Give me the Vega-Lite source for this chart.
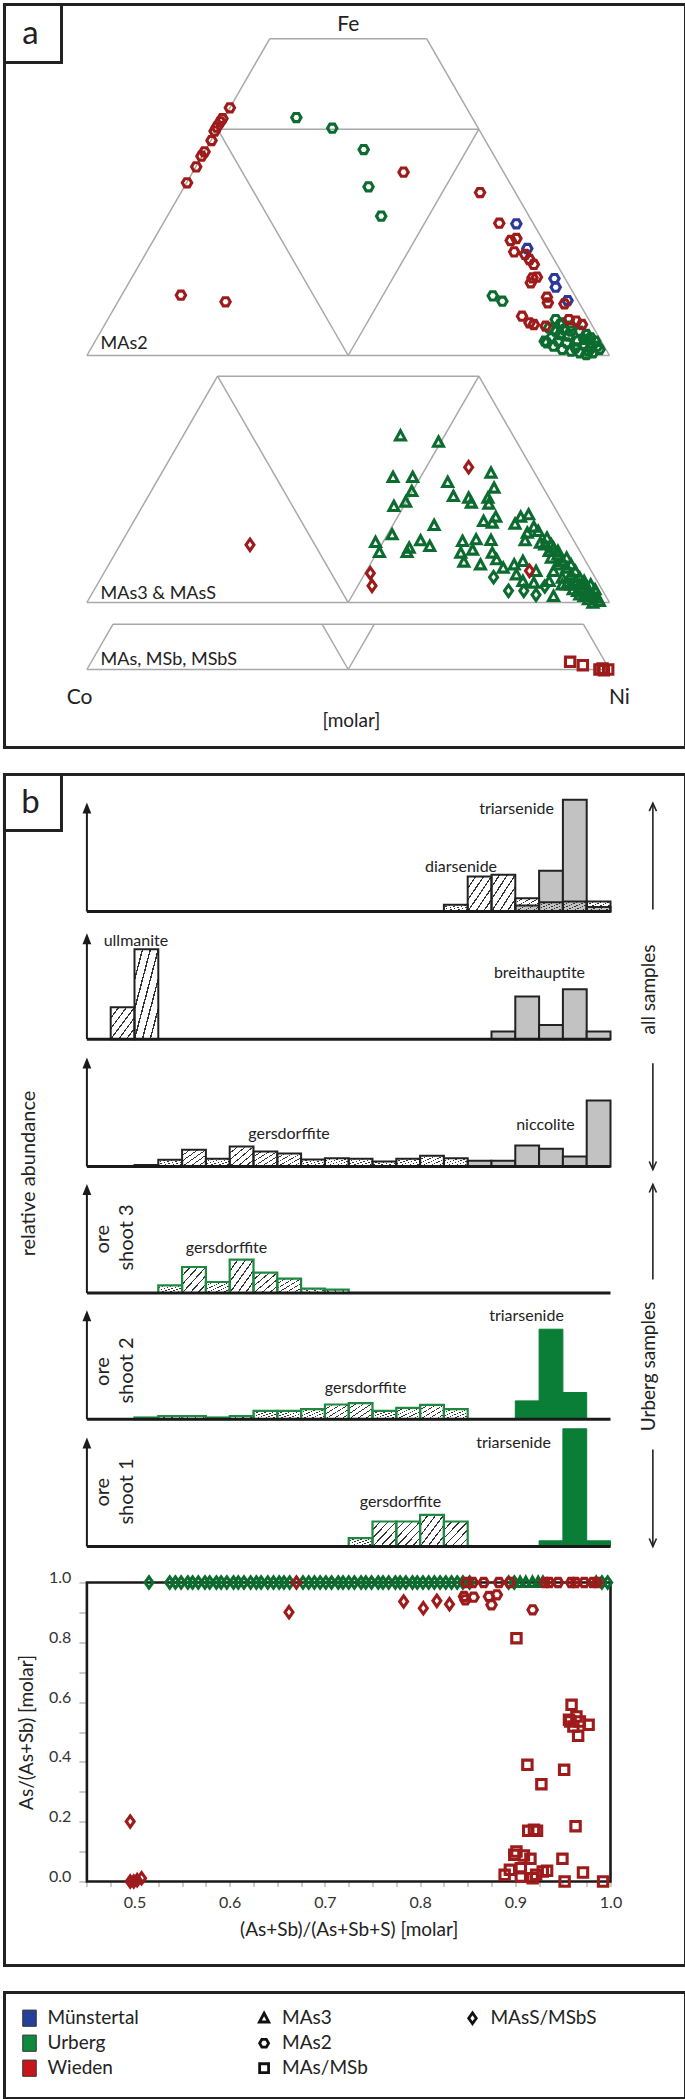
{
"$schema": "https://vega.github.io/schema/vega-lite/v6.json",
"background": "white",
"padding": {"left": 0.5, "top": 1.5, "right": 0.5, "bottom": 0.5},
"spacing": 27,
"bounds": "flush",
"config": {"font": "Lato", "view": {"stroke": null}, "axis": {"grid": false}},
"vconcat": [
{
 "width": 681, "height": 743,
 "view": {"stroke": "#222", "strokeWidth": 3},
 "encoding": {"x": {"field": "x", "type": "quantitative", "scale": {"domain": [0, 1], "range": [82.4, 605], "nice": false, "zero": false}, "axis": null}},
 "resolve": {"scale": {"y": "independent"}},
 "layer": [
  {
   "encoding": {"y": {"field": "y", "type": "quantitative", "scale": {"domain": [0, 1], "range": [351, -101.6], "nice": false, "zero": false}, "axis": null}},
   "layer": [
    {"data": {"values": [{"x":0,"y":0,"x2":1,"y2":0},{"x":0,"y":0,"x2":0.35,"y2":0.7},{"x":1,"y":0,"x2":0.65,"y2":0.7},{"x":0.35,"y":0.7,"x2":0.65,"y2":0.7},{"x":0.25,"y":0.5,"x2":0.75,"y2":0.5},{"x":0.25,"y":0.5,"x2":0.5,"y2":0},{"x":0.5,"y":0,"x2":0.75,"y2":0.5}]},
     "mark": {"type": "rule", "stroke": "#a8a8a8", "strokeWidth": 1.5},
     "encoding": {"x2": {"field": "x2"}, "y2": {"field": "y2"}}},
    {"data": {"values": [{"x":-0.1577,"x2":-0.0486,"y":0.7755,"y2":0.6474}]},
     "mark": {"type": "rect", "fillOpacity": 0, "stroke": "#222", "strokeWidth": 3},
     "encoding": {"x2": {"field": "x2"}, "y2": {"field": "y2"}}},
    {"data": {"values": [
      {"x":0.8971,"y":0.0795,"site":"Urberg","mineral":"MAs2"},{"x":0.9096,"y":0.0722,"site":"Urberg","mineral":"MAs2"},{"x":0.9264,"y":0.0648,"site":"Urberg","mineral":"MAs2"},{"x":0.9431,"y":0.0538,"site":"Urberg","mineral":"MAs2"},{"x":0.9556,"y":0.0464,"site":"Urberg","mineral":"MAs2"},{"x":0.964,"y":0.039,"site":"Urberg","mineral":"MAs2"},{"x":0.9724,"y":0.0317,"site":"Urberg","mineral":"MAs2"},{"x":0.9766,"y":0.0206,"site":"Urberg","mineral":"MAs2"},{"x":0.9808,"y":0.0133,"site":"Urberg","mineral":"MAs2"},{"x":0.9598,"y":0.0096,"site":"Urberg","mineral":"MAs2"},{"x":0.9431,"y":0.0059,"site":"Urberg","mineral":"MAs2"},{"x":0.9264,"y":0.0096,"site":"Urberg","mineral":"MAs2"},{"x":0.9096,"y":0.0133,"site":"Urberg","mineral":"MAs2"},{"x":0.8929,"y":0.0206,"site":"Urberg","mineral":"MAs2"},{"x":0.8803,"y":0.028,"site":"Urberg","mineral":"MAs2"},{"x":0.8762,"y":0.0317,"site":"Urberg","mineral":"MAs2"},{"x":0.8887,"y":0.039,"site":"Urberg","mineral":"MAs2"},{"x":0.9054,"y":0.0464,"site":"Urberg","mineral":"MAs2"},{"x":0.9222,"y":0.0427,"site":"Urberg","mineral":"MAs2"},{"x":0.9389,"y":0.0317,"site":"Urberg","mineral":"MAs2"},{"x":0.9515,"y":0.0243,"site":"Urberg","mineral":"MAs2"},{"x":0.964,"y":0.0169,"site":"Urberg","mineral":"MAs2"},{"x":0.9682,"y":0.0059,"site":"Urberg","mineral":"MAs2"},{"x":0.9556,"y":0.0022,"site":"Urberg","mineral":"MAs2"},{"x":0.9347,"y":0.0169,"site":"Urberg","mineral":"MAs2"},{"x":0.918,"y":0.028,"site":"Urberg","mineral":"MAs2"},{"x":0.9013,"y":0.0317,"site":"Urberg","mineral":"MAs2"},{"x":0.9264,"y":0.0538,"site":"Urberg","mineral":"MAs2"},{"x":0.9138,"y":0.0574,"site":"Urberg","mineral":"MAs2"},{"x":0.9515,"y":0.0354,"site":"Urberg","mineral":"MAs2"},{"x":0.8971,"y":0.0538,"site":"Urberg","mineral":"MAs2"},{"x":0.8845,"y":0.0611,"site":"Urberg","mineral":"MAs2"},{"x":0.9054,"y":0.0685,"site":"Urberg","mineral":"MAs2"},
      {"x":0.4008,"y":0.5258,"site":"Urberg","mineral":"MAs2"},{"x":0.4695,"y":0.5023,"site":"Urberg","mineral":"MAs2"},{"x":0.5297,"y":0.4551,"site":"Urberg","mineral":"MAs2"},{"x":0.5389,"y":0.3727,"site":"Urberg","mineral":"MAs2"},{"x":0.5632,"y":0.3079,"site":"Urberg","mineral":"MAs2"},{"x":0.7766,"y":0.1318,"site":"Urberg","mineral":"MAs2"},{"x":0.795,"y":0.12,"site":"Urberg","mineral":"MAs2"},
      {"x":0.8218,"y":0.2909,"site":"Münstertal","mineral":"MAs2"},{"x":0.8427,"y":0.2364,"site":"Münstertal","mineral":"MAs2"},{"x":0.8946,"y":0.1701,"site":"Münstertal","mineral":"MAs2"},{"x":0.8971,"y":0.151,"site":"Münstertal","mineral":"MAs2"},{"x":0.9197,"y":0.1215,"site":"Münstertal","mineral":"MAs2"},
      {"x":0.2736,"y":0.5472,"site":"Wieden","mineral":"MAs2"},{"x":0.2594,"y":0.5236,"site":"Wieden","mineral":"MAs2"},{"x":0.2552,"y":0.5163,"site":"Wieden","mineral":"MAs2"},{"x":0.2485,"y":0.5045,"site":"Wieden","mineral":"MAs2"},{"x":0.2444,"y":0.4957,"site":"Wieden","mineral":"MAs2"},{"x":0.2385,"y":0.475,"site":"Wieden","mineral":"MAs2"},{"x":0.2251,"y":0.45,"site":"Wieden","mineral":"MAs2"},{"x":0.2192,"y":0.4404,"site":"Wieden","mineral":"MAs2"},{"x":0.2092,"y":0.4168,"site":"Wieden","mineral":"MAs2"},{"x":0.1916,"y":0.3815,"site":"Wieden","mineral":"MAs2"},{"x":0.1799,"y":0.1333,"site":"Wieden","mineral":"MAs2"},{"x":0.2653,"y":0.1186,"site":"Wieden","mineral":"MAs2"},{"x":0.6059,"y":0.4051,"site":"Wieden","mineral":"MAs2"},{"x":0.7523,"y":0.3601,"site":"Wieden","mineral":"MAs2"},{"x":0.7891,"y":0.2924,"site":"Wieden","mineral":"MAs2"},{"x":0.8109,"y":0.2541,"site":"Wieden","mineral":"MAs2"},{"x":0.8218,"y":0.2585,"site":"Wieden","mineral":"MAs2"},{"x":0.8176,"y":0.229,"site":"Wieden","mineral":"MAs2"},{"x":0.8385,"y":0.2232,"site":"Wieden","mineral":"MAs2"},{"x":0.8469,"y":0.2121,"site":"Wieden","mineral":"MAs2"},{"x":0.8552,"y":0.2011,"site":"Wieden","mineral":"MAs2"},{"x":0.8527,"y":0.1716,"site":"Wieden","mineral":"MAs2"},{"x":0.8611,"y":0.1731,"site":"Wieden","mineral":"MAs2"},{"x":0.8494,"y":0.1606,"site":"Wieden","mineral":"MAs2"},{"x":0.8803,"y":0.1289,"site":"Wieden","mineral":"MAs2"},{"x":0.882,"y":0.1164,"site":"Wieden","mineral":"MAs2"},{"x":0.9138,"y":0.1142,"site":"Wieden","mineral":"MAs2"},{"x":0.8326,"y":0.0869,"site":"Wieden","mineral":"MAs2"},{"x":0.8469,"y":0.0722,"site":"Wieden","mineral":"MAs2"},{"x":0.8552,"y":0.0685,"site":"Wieden","mineral":"MAs2"},{"x":0.8778,"y":0.0648,"site":"Wieden","mineral":"MAs2"},{"x":0.9222,"y":0.0795,"site":"Wieden","mineral":"MAs2"},{"x":0.9364,"y":0.0759,"site":"Wieden","mineral":"MAs2"},{"x":0.9473,"y":0.0685,"site":"Wieden","mineral":"MAs2"}
     ]},
     "mark": {"type": "point", "filled": false, "strokeWidth": 3.1, "size": 88, "opacity": 1},
     "encoding": {
      "color": {"field": "site", "type": "nominal", "scale": {"domain": ["Münstertal", "Urberg", "Wieden"], "range": ["#2b3a9a", "#0c6b2e", "#9e1b1b"]}, "legend": null},
      "shape": {"field": "mineral", "type": "nominal", "scale": {"domain": ["MAs3", "MAs2", "MAs/MSb", "MAsS/MSbS"], "range": ["M0,-1.1L1.05,0.85L-1.05,0.85Z", "M-1,0L-0.5,-0.87L0.5,-0.87L1,0L0.5,0.87L-0.5,0.87Z", "M-1,-1L1,-1L1,1L-1,1Z", "M0,-1.2L0.85,0L0,1.2L-0.85,0Z"]}, "legend": null}}},
    {"data": {"values": [{"x":0.5,"y":0.731,"t":"Fe"}]},
     "mark": {"type": "text", "fontSize": 21, "color": "#222", "align": "center", "baseline": "middle"},
     "encoding": {"text": {"field": "t"}}},
    {"data": {"values": [{"x":-0.1079,"y":0.7114,"t":"a"}]},
     "mark": {"type": "text", "fontSize": 33, "color": "#222", "align": "center", "baseline": "middle"},
     "encoding": {"text": {"field": "t"}}},
    {"data": {"values": [{"x":0.026,"y":0.0133,"t":"MAs2"}]},
     "mark": {"type": "text", "fontSize": 18, "color": "#222", "align": "left", "baseline": "alphabetic"},
     "encoding": {"text": {"field": "t"}}}
   ]
  },
  {
   "encoding": {"y": {"field": "y", "type": "quantitative", "scale": {"domain": [0, 1], "range": [598, 145.4], "nice": false, "zero": false}, "axis": null}},
   "layer": [
    {"data": {"values": [{"x":0,"y":0,"x2":1,"y2":0},{"x":0,"y":0,"x2":0.25,"y2":0.5},{"x":1,"y":0,"x2":0.75,"y2":0.5},{"x":0.25,"y":0.5,"x2":0.75,"y2":0.5},{"x":0.25,"y":0.5,"x2":0.5,"y2":0},{"x":0.5,"y":0,"x2":0.75,"y2":0.5}]},
     "mark": {"type": "rule", "stroke": "#a8a8a8", "strokeWidth": 1.5},
     "encoding": {"x2": {"field": "x2"}, "y2": {"field": "y2"}}},
    {"data": {"values": [
      {"x":0.6,"y":0.3682,"site":"Urberg","mineral":"MAs3"},{"x":0.6728,"y":0.3542,"site":"Urberg","mineral":"MAs3"},{"x":0.5858,"y":0.2762,"site":"Urberg","mineral":"MAs3"},{"x":0.6234,"y":0.2762,"site":"Urberg","mineral":"MAs3"},{"x":0.6218,"y":0.2452,"site":"Urberg","mineral":"MAs3"},{"x":0.6904,"y":0.2651,"site":"Urberg","mineral":"MAs3"},{"x":0.7732,"y":0.2858,"site":"Urberg","mineral":"MAs3"},{"x":0.7791,"y":0.2526,"site":"Urberg","mineral":"MAs3"},{"x":0.7013,"y":0.2342,"site":"Urberg","mineral":"MAs3"},{"x":0.7305,"y":0.2305,"site":"Urberg","mineral":"MAs3"},{"x":0.7356,"y":0.2195,"site":"Urberg","mineral":"MAs3"},{"x":0.7674,"y":0.2305,"site":"Urberg","mineral":"MAs3"},{"x":0.769,"y":0.2173,"site":"Urberg","mineral":"MAs3"},{"x":0.5874,"y":0.2121,"site":"Urberg","mineral":"MAs3"},{"x":0.61,"y":0.2217,"site":"Urberg","mineral":"MAs3"},{"x":0.6644,"y":0.1701,"site":"Urberg","mineral":"MAs3"},{"x":0.5841,"y":0.1495,"site":"Urberg","mineral":"MAs3"},{"x":0.5523,"y":0.1326,"site":"Urberg","mineral":"MAs3"},{"x":0.5598,"y":0.1105,"site":"Urberg","mineral":"MAs3"},{"x":0.6385,"y":0.1363,"site":"Urberg","mineral":"MAs3"},{"x":0.6561,"y":0.1237,"site":"Urberg","mineral":"MAs3"},{"x":0.6167,"y":0.12,"site":"Urberg","mineral":"MAs3"},{"x":0.6126,"y":0.1105,"site":"Urberg","mineral":"MAs3"},{"x":0.7188,"y":0.1348,"site":"Urberg","mineral":"MAs3"},{"x":0.7448,"y":0.1385,"site":"Urberg","mineral":"MAs3"},{"x":0.7732,"y":0.137,"site":"Urberg","mineral":"MAs3"},{"x":0.7155,"y":0.109,"site":"Urberg","mineral":"MAs3"},{"x":0.7381,"y":0.1156,"site":"Urberg","mineral":"MAs3"},{"x":0.7213,"y":0.0891,"site":"Urberg","mineral":"MAs3"},{"x":0.7531,"y":0.0832,"site":"Urberg","mineral":"MAs3"},{"x":0.759,"y":0.179,"site":"Urberg","mineral":"MAs3"},{"x":0.7824,"y":0.1885,"site":"Urberg","mineral":"MAs3"},{"x":0.7757,"y":0.1753,"site":"Urberg","mineral":"MAs3"},{"x":0.8192,"y":0.1731,"site":"Urberg","mineral":"MAs3"},{"x":0.8301,"y":0.1885,"site":"Urberg","mineral":"MAs3"},{"x":0.8452,"y":0.1937,"site":"Urberg","mineral":"MAs3"},{"x":0.8552,"y":0.1664,"site":"Urberg","mineral":"MAs3"},{"x":0.8427,"y":0.1532,"site":"Urberg","mineral":"MAs3"},{"x":0.8636,"y":0.1569,"site":"Urberg","mineral":"MAs3"},{"x":0.8385,"y":0.1363,"site":"Urberg","mineral":"MAs3"},{"x":0.8678,"y":0.1311,"site":"Urberg","mineral":"MAs3"},{"x":0.7757,"y":0.109,"site":"Urberg","mineral":"MAs3"},{"x":0.7841,"y":0.0943,"site":"Urberg","mineral":"MAs3"},{"x":0.7966,"y":0.0759,"site":"Urberg","mineral":"MAs3"},{"x":0.8176,"y":0.0832,"site":"Urberg","mineral":"MAs3"},{"x":0.8343,"y":0.0906,"site":"Urberg","mineral":"MAs3"},{"x":0.8218,"y":0.0611,"site":"Urberg","mineral":"MAs3"},{"x":0.8343,"y":0.0464,"site":"Urberg","mineral":"MAs3"},{"x":0.8552,"y":0.0427,"site":"Urberg","mineral":"MAs3"},{"x":0.8594,"y":0.0685,"site":"Urberg","mineral":"MAs3"},{"x":0.8845,"y":0.1127,"site":"Urberg","mineral":"MAs3"},{"x":0.8887,"y":0.098,"site":"Urberg","mineral":"MAs3"},{"x":0.8929,"y":0.0685,"site":"Urberg","mineral":"MAs3"},{"x":0.8845,"y":0.0464,"site":"Urberg","mineral":"MAs3"},{"x":0.8929,"y":0.0133,"site":"Urberg","mineral":"MAs3"},{"x":0.9096,"y":0.039,"site":"Urberg","mineral":"MAs3"},{"x":0.9013,"y":0.0832,"site":"Urberg","mineral":"MAs3"},{"x":0.8762,"y":0.1274,"site":"Urberg","mineral":"MAs3"},{"x":0.8803,"y":0.1421,"site":"Urberg","mineral":"MAs3"},
      {"x":0.8929,"y":0.12,"site":"Urberg","mineral":"MAs3"},{"x":0.9013,"y":0.1053,"site":"Urberg","mineral":"MAs3"},{"x":0.9096,"y":0.0906,"site":"Urberg","mineral":"MAs3"},{"x":0.918,"y":0.0759,"site":"Urberg","mineral":"MAs3"},{"x":0.9264,"y":0.0611,"site":"Urberg","mineral":"MAs3"},{"x":0.9347,"y":0.0464,"site":"Urberg","mineral":"MAs3"},{"x":0.9431,"y":0.039,"site":"Urberg","mineral":"MAs3"},{"x":0.9515,"y":0.0317,"site":"Urberg","mineral":"MAs3"},{"x":0.9598,"y":0.0243,"site":"Urberg","mineral":"MAs3"},{"x":0.9682,"y":0.0169,"site":"Urberg","mineral":"MAs3"},{"x":0.9766,"y":0.0096,"site":"Urberg","mineral":"MAs3"},{"x":0.9808,"y":0.0022,"site":"Urberg","mineral":"MAs3"},{"x":0.918,"y":0.098,"site":"Urberg","mineral":"MAs3"},{"x":0.9264,"y":0.0832,"site":"Urberg","mineral":"MAs3"},{"x":0.9347,"y":0.0685,"site":"Urberg","mineral":"MAs3"},{"x":0.9431,"y":0.0538,"site":"Urberg","mineral":"MAs3"},{"x":0.9515,"y":0.0464,"site":"Urberg","mineral":"MAs3"},{"x":0.964,"y":0.039,"site":"Urberg","mineral":"MAs3"},{"x":0.9724,"y":0.028,"site":"Urberg","mineral":"MAs3"},{"x":0.9264,"y":0.039,"site":"Urberg","mineral":"MAs3"},{"x":0.9389,"y":0.0243,"site":"Urberg","mineral":"MAs3"},{"x":0.9515,"y":0.0133,"site":"Urberg","mineral":"MAs3"},{"x":0.9598,"y":0.0059,"site":"Urberg","mineral":"MAs3"},{"x":0.9682,"y":-0.0015,"site":"Urberg","mineral":"MAs3"},{"x":0.9096,"y":0.0538,"site":"Urberg","mineral":"MAs3"},{"x":0.918,"y":0.039,"site":"Urberg","mineral":"MAs3"},{"x":0.9305,"y":0.028,"site":"Urberg","mineral":"MAs3"},{"x":0.9431,"y":0.0169,"site":"Urberg","mineral":"MAs3"},{"x":0.9013,"y":0.1127,"site":"Urberg","mineral":"MAs3"},{"x":0.8887,"y":0.1274,"site":"Urberg","mineral":"MAs3"},
      {"x":0.7782,"y":0.056,"site":"Urberg","mineral":"MAsS/MSbS"},{"x":0.8067,"y":0.0258,"site":"Urberg","mineral":"MAsS/MSbS"},{"x":0.836,"y":0.0258,"site":"Urberg","mineral":"MAsS/MSbS"},{"x":0.8594,"y":0.0169,"site":"Urberg","mineral":"MAsS/MSbS"},{"x":0.8762,"y":0.0354,"site":"Urberg","mineral":"MAsS/MSbS"},
      {"x":0.3121,"y":0.1274,"site":"Wieden","mineral":"MAsS/MSbS"},{"x":0.7305,"y":0.299,"site":"Wieden","mineral":"MAsS/MSbS"},{"x":0.5423,"y":0.0648,"site":"Wieden","mineral":"MAsS/MSbS"},{"x":0.5456,"y":0.0368,"site":"Wieden","mineral":"MAsS/MSbS"},{"x":0.8469,"y":0.07,"site":"Wieden","mineral":"MAsS/MSbS"}
     ]},
     "mark": {"type": "point", "filled": false, "strokeWidth": 3.1, "size": 88, "opacity": 1},
     "encoding": {
      "color": {"field": "site", "type": "nominal", "scale": {"domain": ["Münstertal", "Urberg", "Wieden"], "range": ["#2b3a9a", "#0c6b2e", "#9e1b1b"]}, "legend": null},
      "shape": {"field": "mineral", "type": "nominal", "scale": {"domain": ["MAs3", "MAs2", "MAs/MSb", "MAsS/MSbS"], "range": ["M0,-1.1L1.05,0.85L-1.05,0.85Z", "M-1,0L-0.5,-0.87L0.5,-0.87L1,0L0.5,0.87L-0.5,0.87Z", "M-1,-1L1,-1L1,1L-1,1Z", "M0,-1.2L0.85,0L0,1.2L-0.85,0Z"]}, "legend": null}}},
    {"data": {"values": [{"x":0.026,"y":0.0088,"t":"MAs3 & MAsS"}]},
     "mark": {"type": "text", "fontSize": 18, "color": "#222", "align": "left", "baseline": "alphabetic"},
     "encoding": {"text": {"field": "t"}}}
   ]
  },
  {
   "encoding": {"y": {"field": "y", "type": "quantitative", "scale": {"domain": [0, 1], "range": [665, 212.4], "nice": false, "zero": false}, "axis": null}},
   "layer": [
    {"data": {"values": [{"x":0,"y":0,"x2":1,"y2":0},{"x":0,"y":0,"x2":0.05,"y2":0.1},{"x":1,"y":0,"x2":0.95,"y2":0.1},{"x":0.05,"y":0.1,"x2":0.95,"y2":0.1},{"x":0.45,"y":0.1,"x2":0.5,"y2":0},{"x":0.5,"y":0,"x2":0.55,"y2":0.1}]},
     "mark": {"type": "rule", "stroke": "#a8a8a8", "strokeWidth": 1.5},
     "encoding": {"x2": {"field": "x2"}, "y2": {"field": "y2"}}},
    {"data": {"values": [
      {"x":0.9247,"y":0.0169,"site":"Wieden","mineral":"MAs/MSb"},{"x":0.949,"y":0.0096,"site":"Wieden","mineral":"MAs/MSb"},{"x":0.9808,"y":0,"site":"Wieden","mineral":"MAs/MSb"},{"x":0.9891,"y":-0.0015,"site":"Wieden","mineral":"MAs/MSb"},{"x":0.9975,"y":0,"site":"Wieden","mineral":"MAs/MSb"},{"x":0.9866,"y":0.0022,"site":"Wieden","mineral":"MAs/MSb"}
     ]},
     "mark": {"type": "point", "filled": false, "strokeWidth": 3.1, "size": 88, "opacity": 1},
     "encoding": {
      "color": {"field": "site", "type": "nominal", "scale": {"domain": ["Münstertal", "Urberg", "Wieden"], "range": ["#2b3a9a", "#0c6b2e", "#9e1b1b"]}, "legend": null},
      "shape": {"field": "mineral", "type": "nominal", "scale": {"domain": ["MAs3", "MAs2", "MAs/MSb", "MAsS/MSbS"], "range": ["M0,-1.1L1.05,0.85L-1.05,0.85Z", "M-1,0L-0.5,-0.87L0.5,-0.87L1,0L0.5,0.87L-0.5,0.87Z", "M-1,-1L1,-1L1,1L-1,1Z", "M0,-1.2L0.85,0L0,1.2L-0.85,0Z"]}, "legend": null}}},
    {"data": {"values": [{"x":0.026,"y":0.011,"t":"MAs, MSb, MSbS"}]},
     "mark": {"type": "text", "fontSize": 18, "color": "#222", "align": "left", "baseline": "alphabetic"},
     "encoding": {"text": {"field": "t"}}},
    {"data": {"values": [{"x":-0.014,"y":-0.064,"t":"Co"},{"x":1.019,"y":-0.064,"t":"Ni"}]},
     "mark": {"type": "text", "fontSize": 21, "color": "#222", "align": "center", "baseline": "middle"},
     "encoding": {"text": {"field": "t"}}},
    {"data": {"values": [{"x":0.506,"y":-0.1127,"t":"[molar]"}]},
     "mark": {"type": "text", "fontSize": 19, "color": "#222", "align": "center", "baseline": "middle"},
     "encoding": {"text": {"field": "t"}}}
   ]
  }
 ]
},
{
 "width": 681, "height": 1191,
 "view": {"stroke": "#222", "strokeWidth": 3},
 "encoding": {"x": {"field": "x", "type": "quantitative", "scale": {"domain": [0.45, 1.0], "range": [82.4, 606], "nice": false, "zero": false},
   "axis": {"title": "(As+Sb)/(As+Sb+S) [molar]", "orient": "bottom", "offset": -84, "domain": false, "grid": false,
     "values": [0.45,0.475,0.5,0.525,0.55,0.575,0.6,0.625,0.65,0.675,0.7,0.725,0.75,0.775,0.8,0.825,0.85,0.875,0.9,0.925,0.95,0.975,1.0],
     "labelExpr": "abs(datum.value*10 - round(datum.value*10)) < 0.001 && datum.value > 0.46 ? format(datum.value, '.1f') : ''",
     "labelOverlap": false, "labelFlush": false, "tickSize": 5, "tickColor": "#999", "tickWidth": 1, "labelFontSize": 16, "labelColor": "#333", "labelPadding": 8,
     "titleFontSize": 19, "titleFontWeight": "normal", "titleColor": "#222", "titlePadding": 10}}},
 "resolve": {"scale": {"y": "independent"}},
 "layer": [
  {
   "data": {"values": [
    {"x":0.9,"x2":0.925,"y":6,"k":"g"},{"x":0.925,"x2":0.95,"y":40.7,"k":"g"},{"x":0.95,"x2":0.975,"y":111.7,"k":"g"},{"x":0.975,"x2":1.0,"y":4.5,"k":"g"},
    {"x":0.825,"x2":0.85,"y":6.7,"k":"h"},{"x":0.85,"x2":0.875,"y":35,"k":"h"},{"x":0.875,"x2":0.9,"y":36.7,"k":"h"},{"x":0.9,"x2":0.925,"y":13.3,"k":"h"},{"x":0.925,"x2":0.95,"y":9.3,"k":"h"},{"x":0.95,"x2":0.975,"y":10,"k":"h"},{"x":0.975,"x2":1.0,"y":10,"k":"h"}
   ]},
   "encoding": {"y": {"field": "y", "type": "quantitative", "scale": {"domain": [0, 110], "range": [137, 27], "nice": false, "zero": false}, "axis": null}},
   "layer": [
    {"transform": [{"filter": "datum.k == 'g'"}], "mark": {"type": "rect", "fill": "#c2c2c2", "stroke": "#222", "strokeWidth": 2}, "encoding": {"x2": {"field": "x2"}, "y2": {"datum": 0}}},
    {"transform": [{"filter": "datum.k == 'h'"}], "mark": {"type": "rect", "stroke": "#222", "strokeWidth": 2, "fill": {"gradient": "linear", "x1": 0, "y1": 0, "x2": 1, "y2": 1, "stops": [{"offset":0,"color":"rgba(255,255,255,0)"},{"offset":0.155,"color":"rgba(255,255,255,0)"},{"offset":0.155,"color":"#333"},{"offset":0.185,"color":"#333"},{"offset":0.185,"color":"rgba(255,255,255,0)"},{"offset":0.32,"color":"rgba(255,255,255,0)"},{"offset":0.32,"color":"#333"},{"offset":0.35,"color":"#333"},{"offset":0.35,"color":"rgba(255,255,255,0)"},{"offset":0.485,"color":"rgba(255,255,255,0)"},{"offset":0.485,"color":"#333"},{"offset":0.515,"color":"#333"},{"offset":0.515,"color":"rgba(255,255,255,0)"},{"offset":0.65,"color":"rgba(255,255,255,0)"},{"offset":0.65,"color":"#333"},{"offset":0.68,"color":"#333"},{"offset":0.68,"color":"rgba(255,255,255,0)"},{"offset":0.815,"color":"rgba(255,255,255,0)"},{"offset":0.815,"color":"#333"},{"offset":0.845,"color":"#333"},{"offset":0.845,"color":"rgba(255,255,255,0)"},{"offset":1,"color":"rgba(255,255,255,0)"}]}}, "encoding": {"x2": {"field": "x2"}, "y2": {"datum": 0}}},
    {"data": {"values": [{"x":0.45,"x2":1.0,"y":0}]}, "mark": {"type": "rule", "stroke": "#1a1a1a", "strokeWidth": 3}, "encoding": {"x2": {"field": "x2"}}},
    {"data": {"values": [{"x":0.45,"y":0,"y2":100}]}, "mark": {"type": "rule", "stroke": "#1a1a1a", "strokeWidth": 2}, "encoding": {"y2": {"field": "y2"}}},
    {"data": {"values": [{"x":0.45,"y":109}]}, "mark": {"type": "point", "shape": "M0,0L0.4,1L-0.4,1Z", "size": 484, "filled": true, "fill": "#1a1a1a", "strokeWidth": 0, "opacity": 1}},
    {"data": {"values": [{"x":0.9013,"y":102.3,"t":"triarsenide"},{"x":0.843,"y":45,"t":"diarsenide"}]},
     "mark": {"type": "text", "fontSize": 16, "color": "#222", "align": "center", "baseline": "middle"}, "encoding": {"text": {"field": "t"}}},
    {"data": {"values": [{"x":0.3634,"x2":0.4233,"y":137,"y2":81}]}, "mark": {"type": "rect", "fillOpacity": 0, "stroke": "#222", "strokeWidth": 3}, "encoding": {"x2": {"field": "x2"}, "y2": {"field": "y2"}}},
    {"data": {"values": [{"x":0.3908,"y":108.3,"t":"b"}]},
     "mark": {"type": "text", "fontSize": 33, "color": "#222", "align": "center", "baseline": "middle"}, "encoding": {"text": {"field": "t"}}},
    {"data": {"values": [{"x":0.3887,"y":-262,"t":"relative abundance"}]},
     "mark": {"type": "text", "fontSize": 20, "color": "#222", "align": "center", "baseline": "middle", "angle": 270}, "encoding": {"text": {"field": "t"}}},
    {"data": {"values": [{"x":1.0409,"y":-78,"t":"all samples"},{"x":1.0409,"y":-455,"t":"Urberg samples"}]},
     "mark": {"type": "text", "fontSize": 19, "color": "#222", "align": "center", "baseline": "middle", "angle": 270}, "encoding": {"text": {"field": "t"}}},
    {"data": {"values": [{"x":1.0445,"y":108.3,"y2":2},{"x":1.0445,"y":-151.7,"y2":-258},{"x":1.0445,"y":-273,"y2":-368},{"x":1.0445,"y":-538,"y2":-635}]},
     "mark": {"type": "rule", "stroke": "#222", "strokeWidth": 1.6}, "encoding": {"y2": {"field": "y2"}}},
    {"data": {"values": [{"x":1.0445,"y":108.3},{"x":1.0445,"y":-273}]},
     "mark": {"type": "point", "shape": "M-0.45,1L0,0L0.45,1", "size": 256, "filled": false, "stroke": "#222", "strokeWidth": 1.6, "opacity": 1}},
    {"data": {"values": [{"x":1.0445,"y":-258},{"x":1.0445,"y":-635}]},
     "mark": {"type": "point", "shape": "M-0.45,-1L0,0L0.45,-1", "size": 256, "filled": false, "stroke": "#222", "strokeWidth": 1.6, "opacity": 1}}
   ]
  },
  {
   "data": {"values": [
    {"x":0.475,"x2":0.5,"y":32,"k":"h"},{"x":0.5,"x2":0.525,"y":90,"k":"h"},
    {"x":0.875,"x2":0.9,"y":7.7,"k":"g"},{"x":0.9,"x2":0.925,"y":42.7,"k":"g"},{"x":0.925,"x2":0.95,"y":14.3,"k":"g"},{"x":0.95,"x2":0.975,"y":50,"k":"g"},{"x":0.975,"x2":1.0,"y":7.7,"k":"g"}
   ]},
   "encoding": {"y": {"field": "y", "type": "quantitative", "scale": {"domain": [0, 110], "range": [264.7, 154.7], "nice": false, "zero": false}, "axis": null}},
   "layer": [
    {"transform": [{"filter": "datum.k == 'g'"}], "mark": {"type": "rect", "fill": "#c2c2c2", "stroke": "#222", "strokeWidth": 2}, "encoding": {"x2": {"field": "x2"}, "y2": {"datum": 0}}},
    {"transform": [{"filter": "datum.k == 'h'"}], "mark": {"type": "rect", "stroke": "#222", "strokeWidth": 2, "fill": {"gradient": "linear", "x1": 0, "y1": 0, "x2": 1, "y2": 1, "stops": [{"offset":0,"color":"rgba(255,255,255,0)"},{"offset":0.155,"color":"rgba(255,255,255,0)"},{"offset":0.155,"color":"#333"},{"offset":0.185,"color":"#333"},{"offset":0.185,"color":"rgba(255,255,255,0)"},{"offset":0.32,"color":"rgba(255,255,255,0)"},{"offset":0.32,"color":"#333"},{"offset":0.35,"color":"#333"},{"offset":0.35,"color":"rgba(255,255,255,0)"},{"offset":0.485,"color":"rgba(255,255,255,0)"},{"offset":0.485,"color":"#333"},{"offset":0.515,"color":"#333"},{"offset":0.515,"color":"rgba(255,255,255,0)"},{"offset":0.65,"color":"rgba(255,255,255,0)"},{"offset":0.65,"color":"#333"},{"offset":0.68,"color":"#333"},{"offset":0.68,"color":"rgba(255,255,255,0)"},{"offset":0.815,"color":"rgba(255,255,255,0)"},{"offset":0.815,"color":"#333"},{"offset":0.845,"color":"#333"},{"offset":0.845,"color":"rgba(255,255,255,0)"},{"offset":1,"color":"rgba(255,255,255,0)"}]}}, "encoding": {"x2": {"field": "x2"}, "y2": {"datum": 0}}},
    {"data": {"values": [{"x":0.45,"x2":1.0,"y":0}]}, "mark": {"type": "rule", "stroke": "#1a1a1a", "strokeWidth": 3}, "encoding": {"x2": {"field": "x2"}}},
    {"data": {"values": [{"x":0.45,"y":0,"y2":97}]}, "mark": {"type": "rule", "stroke": "#1a1a1a", "strokeWidth": 2}, "encoding": {"y2": {"field": "y2"}}},
    {"data": {"values": [{"x":0.45,"y":106}]}, "mark": {"type": "point", "shape": "M0,0L0.4,1L-0.4,1Z", "size": 484, "filled": true, "fill": "#1a1a1a", "strokeWidth": 0, "opacity": 1}},
    {"data": {"values": [{"x":0.5015,"y":98.7,"t":"ullmanite"},{"x":0.9254,"y":66,"t":"breithauptite"}]},
     "mark": {"type": "text", "fontSize": 16, "color": "#222", "align": "center", "baseline": "middle"}, "encoding": {"text": {"field": "t"}}}
   ]
  },
  {
   "data": {"values": [
    {"x":0.5,"x2":0.525,"y":1.5,"k":"h"},{"x":0.525,"x2":0.55,"y":6.7,"k":"h"},{"x":0.55,"x2":0.575,"y":16.7,"k":"h"},{"x":0.575,"x2":0.6,"y":7.7,"k":"h"},{"x":0.6,"x2":0.625,"y":20,"k":"h"},{"x":0.625,"x2":0.65,"y":15,"k":"h"},{"x":0.65,"x2":0.675,"y":13,"k":"h"},{"x":0.675,"x2":0.7,"y":7,"k":"h"},{"x":0.7,"x2":0.725,"y":8.3,"k":"h"},{"x":0.725,"x2":0.75,"y":7.7,"k":"h"},{"x":0.75,"x2":0.775,"y":5,"k":"h"},{"x":0.775,"x2":0.8,"y":7.7,"k":"h"},{"x":0.8,"x2":0.825,"y":10.7,"k":"h"},{"x":0.825,"x2":0.85,"y":8.3,"k":"h"},
    {"x":0.85,"x2":0.875,"y":5.7,"k":"g"},{"x":0.875,"x2":0.9,"y":5.7,"k":"g"},{"x":0.9,"x2":0.925,"y":21,"k":"g"},{"x":0.925,"x2":0.95,"y":17.7,"k":"g"},{"x":0.95,"x2":0.975,"y":10,"k":"g"},{"x":0.975,"x2":1.0,"y":66,"k":"g"}
   ]},
   "encoding": {"y": {"field": "y", "type": "quantitative", "scale": {"domain": [0, 110], "range": [392, 282], "nice": false, "zero": false}, "axis": null}},
   "layer": [
    {"transform": [{"filter": "datum.k == 'g'"}], "mark": {"type": "rect", "fill": "#c2c2c2", "stroke": "#222", "strokeWidth": 2}, "encoding": {"x2": {"field": "x2"}, "y2": {"datum": 0}}},
    {"transform": [{"filter": "datum.k == 'h'"}], "mark": {"type": "rect", "stroke": "#222", "strokeWidth": 2, "fill": {"gradient": "linear", "x1": 0, "y1": 0, "x2": 1, "y2": 1, "stops": [{"offset":0,"color":"rgba(255,255,255,0)"},{"offset":0.155,"color":"rgba(255,255,255,0)"},{"offset":0.155,"color":"#333"},{"offset":0.185,"color":"#333"},{"offset":0.185,"color":"rgba(255,255,255,0)"},{"offset":0.32,"color":"rgba(255,255,255,0)"},{"offset":0.32,"color":"#333"},{"offset":0.35,"color":"#333"},{"offset":0.35,"color":"rgba(255,255,255,0)"},{"offset":0.485,"color":"rgba(255,255,255,0)"},{"offset":0.485,"color":"#333"},{"offset":0.515,"color":"#333"},{"offset":0.515,"color":"rgba(255,255,255,0)"},{"offset":0.65,"color":"rgba(255,255,255,0)"},{"offset":0.65,"color":"#333"},{"offset":0.68,"color":"#333"},{"offset":0.68,"color":"rgba(255,255,255,0)"},{"offset":0.815,"color":"rgba(255,255,255,0)"},{"offset":0.815,"color":"#333"},{"offset":0.845,"color":"#333"},{"offset":0.845,"color":"rgba(255,255,255,0)"},{"offset":1,"color":"rgba(255,255,255,0)"}]}}, "encoding": {"x2": {"field": "x2"}, "y2": {"datum": 0}}},
    {"data": {"values": [{"x":0.45,"x2":1.0,"y":0}]}, "mark": {"type": "rule", "stroke": "#1a1a1a", "strokeWidth": 3}, "encoding": {"x2": {"field": "x2"}}},
    {"data": {"values": [{"x":0.45,"y":0,"y2":100}]}, "mark": {"type": "rule", "stroke": "#1a1a1a", "strokeWidth": 2}, "encoding": {"y2": {"field": "y2"}}},
    {"data": {"values": [{"x":0.45,"y":109}]}, "mark": {"type": "point", "shape": "M0,0L0.4,1L-0.4,1Z", "size": 484, "filled": true, "fill": "#1a1a1a", "strokeWidth": 0, "opacity": 1}},
    {"data": {"values": [{"x":0.6623,"y":32.3,"t":"gersdorffite"},{"x":0.9317,"y":41.7,"t":"niccolite"}]},
     "mark": {"type": "text", "fontSize": 16, "color": "#222", "align": "center", "baseline": "middle"}, "encoding": {"text": {"field": "t"}}}
   ]
  },
  {
   "data": {"values": [
    {"x":0.525,"x2":0.55,"y":7.7,"k":"gh"},{"x":0.55,"x2":0.575,"y":26,"k":"gh"},{"x":0.575,"x2":0.6,"y":11,"k":"gh"},{"x":0.6,"x2":0.625,"y":33.3,"k":"gh"},{"x":0.625,"x2":0.65,"y":20.3,"k":"gh"},{"x":0.65,"x2":0.675,"y":14.3,"k":"gh"},{"x":0.675,"x2":0.7,"y":4.3,"k":"gh"},{"x":0.7,"x2":0.725,"y":3.3,"k":"gh"}
   ]},
   "encoding": {"y": {"field": "y", "type": "quantitative", "scale": {"domain": [0, 110], "range": [518.5, 408.5], "nice": false, "zero": false}, "axis": null}},
   "layer": [
    {"transform": [{"filter": "datum.k == 'gh'"}], "mark": {"type": "rect", "stroke": "#1e8a40", "strokeWidth": 2.2, "fill": {"gradient": "linear", "x1": 0, "y1": 0, "x2": 1, "y2": 1, "stops": [{"offset":0,"color":"rgba(255,255,255,0)"},{"offset":0.155,"color":"rgba(255,255,255,0)"},{"offset":0.155,"color":"#333"},{"offset":0.185,"color":"#333"},{"offset":0.185,"color":"rgba(255,255,255,0)"},{"offset":0.32,"color":"rgba(255,255,255,0)"},{"offset":0.32,"color":"#333"},{"offset":0.35,"color":"#333"},{"offset":0.35,"color":"rgba(255,255,255,0)"},{"offset":0.485,"color":"rgba(255,255,255,0)"},{"offset":0.485,"color":"#333"},{"offset":0.515,"color":"#333"},{"offset":0.515,"color":"rgba(255,255,255,0)"},{"offset":0.65,"color":"rgba(255,255,255,0)"},{"offset":0.65,"color":"#333"},{"offset":0.68,"color":"#333"},{"offset":0.68,"color":"rgba(255,255,255,0)"},{"offset":0.815,"color":"rgba(255,255,255,0)"},{"offset":0.815,"color":"#333"},{"offset":0.845,"color":"#333"},{"offset":0.845,"color":"rgba(255,255,255,0)"},{"offset":1,"color":"rgba(255,255,255,0)"}]}}, "encoding": {"x2": {"field": "x2"}, "y2": {"datum": 0}}},
    {"data": {"values": [{"x":0.45,"x2":1.0,"y":0}]}, "mark": {"type": "rule", "stroke": "#1a1a1a", "strokeWidth": 3}, "encoding": {"x2": {"field": "x2"}}},
    {"data": {"values": [{"x":0.45,"y":0,"y2":100}]}, "mark": {"type": "rule", "stroke": "#1a1a1a", "strokeWidth": 2}, "encoding": {"y2": {"field": "y2"}}},
    {"data": {"values": [{"x":0.45,"y":109}]}, "mark": {"type": "point", "shape": "M0,0L0.4,1L-0.4,1Z", "size": 484, "filled": true, "fill": "#1a1a1a", "strokeWidth": 0, "opacity": 1}},
    {"data": {"values": [{"x":0.5966,"y":45.5,"t":"gersdorffite"}]},
     "mark": {"type": "text", "fontSize": 16, "color": "#222", "align": "center", "baseline": "middle"}, "encoding": {"text": {"field": "t"}}},
    {"data": {"values": [{"x":0.4664,"y":53.8,"t":"ore"},{"x":0.4923,"y":55.5,"t":"shoot 3"}]},
     "mark": {"type": "text", "fontSize": 20, "color": "#222", "align": "center", "baseline": "middle", "angle": 270}, "encoding": {"text": {"field": "t"}}}
   ]
  },
  {
   "data": {"values": [
    {"x":0.5,"x2":0.525,"y":1.7,"k":"gh"},{"x":0.525,"x2":0.55,"y":3,"k":"gh"},{"x":0.55,"x2":0.575,"y":3,"k":"gh"},{"x":0.575,"x2":0.6,"y":1.7,"k":"gh"},{"x":0.6,"x2":0.625,"y":3,"k":"gh"},{"x":0.625,"x2":0.65,"y":8.3,"k":"gh"},{"x":0.65,"x2":0.675,"y":8.3,"k":"gh"},{"x":0.675,"x2":0.7,"y":10,"k":"gh"},{"x":0.7,"x2":0.725,"y":14.7,"k":"gh"},{"x":0.725,"x2":0.75,"y":16,"k":"gh"},{"x":0.75,"x2":0.775,"y":8.3,"k":"gh"},{"x":0.775,"x2":0.8,"y":11.3,"k":"gh"},{"x":0.8,"x2":0.825,"y":14.3,"k":"gh"},{"x":0.825,"x2":0.85,"y":10,"k":"gh"},
    {"x":0.9,"x2":0.925,"y":18.3,"k":"gs"},{"x":0.925,"x2":0.95,"y":90,"k":"gs"},{"x":0.95,"x2":0.975,"y":26.7,"k":"gs"}
   ]},
   "encoding": {"y": {"field": "y", "type": "quantitative", "scale": {"domain": [0, 110], "range": [644.7, 534.7], "nice": false, "zero": false}, "axis": null}},
   "layer": [
    {"transform": [{"filter": "datum.k == 'gs'"}], "mark": {"type": "rect", "fill": "#0a7d36", "stroke": "#0a7d36", "strokeWidth": 1}, "encoding": {"x2": {"field": "x2"}, "y2": {"datum": 0}}},
    {"transform": [{"filter": "datum.k == 'gh'"}], "mark": {"type": "rect", "stroke": "#1e8a40", "strokeWidth": 2.2, "fill": {"gradient": "linear", "x1": 0, "y1": 0, "x2": 1, "y2": 1, "stops": [{"offset":0,"color":"rgba(255,255,255,0)"},{"offset":0.155,"color":"rgba(255,255,255,0)"},{"offset":0.155,"color":"#333"},{"offset":0.185,"color":"#333"},{"offset":0.185,"color":"rgba(255,255,255,0)"},{"offset":0.32,"color":"rgba(255,255,255,0)"},{"offset":0.32,"color":"#333"},{"offset":0.35,"color":"#333"},{"offset":0.35,"color":"rgba(255,255,255,0)"},{"offset":0.485,"color":"rgba(255,255,255,0)"},{"offset":0.485,"color":"#333"},{"offset":0.515,"color":"#333"},{"offset":0.515,"color":"rgba(255,255,255,0)"},{"offset":0.65,"color":"rgba(255,255,255,0)"},{"offset":0.65,"color":"#333"},{"offset":0.68,"color":"#333"},{"offset":0.68,"color":"rgba(255,255,255,0)"},{"offset":0.815,"color":"rgba(255,255,255,0)"},{"offset":0.815,"color":"#333"},{"offset":0.845,"color":"#333"},{"offset":0.845,"color":"rgba(255,255,255,0)"},{"offset":1,"color":"rgba(255,255,255,0)"}]}}, "encoding": {"x2": {"field": "x2"}, "y2": {"datum": 0}}},
    {"data": {"values": [{"x":0.45,"x2":1.0,"y":0}]}, "mark": {"type": "rule", "stroke": "#1a1a1a", "strokeWidth": 3}, "encoding": {"x2": {"field": "x2"}}},
    {"data": {"values": [{"x":0.45,"y":0,"y2":100}]}, "mark": {"type": "rule", "stroke": "#1a1a1a", "strokeWidth": 2}, "encoding": {"y2": {"field": "y2"}}},
    {"data": {"values": [{"x":0.45,"y":109}]}, "mark": {"type": "point", "shape": "M0,0L0.4,1L-0.4,1Z", "size": 484, "filled": true, "fill": "#1a1a1a", "strokeWidth": 0, "opacity": 1}},
    {"data": {"values": [{"x":0.9118,"y":103.4,"t":"triarsenide"},{"x":0.7427,"y":31.7,"t":"gersdorffite"}]},
     "mark": {"type": "text", "fontSize": 16, "color": "#222", "align": "center", "baseline": "middle"}, "encoding": {"text": {"field": "t"}}},
    {"data": {"values": [{"x":0.4664,"y":47.7,"t":"ore"},{"x":0.4923,"y":48.7,"t":"shoot 2"}]},
     "mark": {"type": "text", "fontSize": 20, "color": "#222", "align": "center", "baseline": "middle", "angle": 270}, "encoding": {"text": {"field": "t"}}}
   ]
  },
  {
   "data": {"values": [
    {"x":0.725,"x2":0.75,"y":8.3,"k":"gh"},{"x":0.75,"x2":0.775,"y":25,"k":"gh"},{"x":0.775,"x2":0.8,"y":25,"k":"gh"},{"x":0.8,"x2":0.825,"y":31.7,"k":"gh"},{"x":0.825,"x2":0.85,"y":25,"k":"gh"},
    {"x":0.925,"x2":0.95,"y":5.7,"k":"gs"},{"x":0.95,"x2":0.975,"y":117.7,"k":"gs"},{"x":0.975,"x2":1.0,"y":5.7,"k":"gs"}
   ]},
   "encoding": {"y": {"field": "y", "type": "quantitative", "scale": {"domain": [0, 110], "range": [772, 662], "nice": false, "zero": false}, "axis": null}},
   "layer": [
    {"transform": [{"filter": "datum.k == 'gs'"}], "mark": {"type": "rect", "fill": "#0a7d36", "stroke": "#0a7d36", "strokeWidth": 1}, "encoding": {"x2": {"field": "x2"}, "y2": {"datum": 0}}},
    {"transform": [{"filter": "datum.k == 'gh'"}], "mark": {"type": "rect", "stroke": "#1e8a40", "strokeWidth": 2.2, "fill": {"gradient": "linear", "x1": 0, "y1": 0, "x2": 1, "y2": 1, "stops": [{"offset":0,"color":"rgba(255,255,255,0)"},{"offset":0.155,"color":"rgba(255,255,255,0)"},{"offset":0.155,"color":"#333"},{"offset":0.185,"color":"#333"},{"offset":0.185,"color":"rgba(255,255,255,0)"},{"offset":0.32,"color":"rgba(255,255,255,0)"},{"offset":0.32,"color":"#333"},{"offset":0.35,"color":"#333"},{"offset":0.35,"color":"rgba(255,255,255,0)"},{"offset":0.485,"color":"rgba(255,255,255,0)"},{"offset":0.485,"color":"#333"},{"offset":0.515,"color":"#333"},{"offset":0.515,"color":"rgba(255,255,255,0)"},{"offset":0.65,"color":"rgba(255,255,255,0)"},{"offset":0.65,"color":"#333"},{"offset":0.68,"color":"#333"},{"offset":0.68,"color":"rgba(255,255,255,0)"},{"offset":0.815,"color":"rgba(255,255,255,0)"},{"offset":0.815,"color":"#333"},{"offset":0.845,"color":"#333"},{"offset":0.845,"color":"rgba(255,255,255,0)"},{"offset":1,"color":"rgba(255,255,255,0)"}]}}, "encoding": {"x2": {"field": "x2"}, "y2": {"datum": 0}}},
    {"data": {"values": [{"x":0.45,"x2":1.0,"y":0}]}, "mark": {"type": "rule", "stroke": "#1a1a1a", "strokeWidth": 3}, "encoding": {"x2": {"field": "x2"}}},
    {"data": {"values": [{"x":0.45,"y":0,"y2":100}]}, "mark": {"type": "rule", "stroke": "#1a1a1a", "strokeWidth": 2}, "encoding": {"y2": {"field": "y2"}}},
    {"data": {"values": [{"x":0.45,"y":109}]}, "mark": {"type": "point", "shape": "M0,0L0.4,1L-0.4,1Z", "size": 484, "filled": true, "fill": "#1a1a1a", "strokeWidth": 0, "opacity": 1}},
    {"data": {"values": [{"x":0.8981,"y":103.3,"t":"triarsenide"},{"x":0.7794,"y":44.3,"t":"gersdorffite"}]},
     "mark": {"type": "text", "fontSize": 16, "color": "#222", "align": "center", "baseline": "middle"}, "encoding": {"text": {"field": "t"}}},
    {"data": {"values": [{"x":0.4664,"y":54.3,"t":"ore"},{"x":0.4923,"y":55,"t":"shoot 1"}]},
     "mark": {"type": "text", "fontSize": 20, "color": "#222", "align": "center", "baseline": "middle", "angle": 270}, "encoding": {"text": {"field": "t"}}}
   ]
  },
  {
   "encoding": {"y": {"field": "y", "type": "quantitative", "scale": {"domain": [0, 1], "range": [1107, 808], "nice": false, "zero": false},
     "axis": {"title": "As/(As+Sb) [molar]", "orient": "left", "offset": -82.4, "domain": false, "grid": false,
       "values": [0,0.1,0.2,0.3,0.4,0.5,0.6,0.7,0.8,0.9,1.0],
       "labelExpr": "round(datum.value*10) % 2 == 0 ? format(datum.value, '.1f') : ''",
       "labelOverlap": false, "labelFlush": false, "tickSize": 8, "tickColor": "#999", "tickWidth": 1, "labelFontSize": 16, "labelColor": "#333", "labelPadding": 8, "labelBaseline": "alphabetic",
       "titleFontSize": 19, "titleFontWeight": "normal", "titleColor": "#222", "titlePadding": 12}}},
   "layer": [
    {"data": {"values": [{"x":0.45,"x2":1.0,"y":0,"y2":1}]}, "mark": {"type": "rect", "fillOpacity": 0, "stroke": "#1a1a1a", "strokeWidth": 2.6}, "encoding": {"x2": {"field": "x2"}, "y2": {"field": "y2"}}},
    {"data": {"values": [
      {"x":0.5152,"y":1,"site":"Urberg","mineral":"MAsS/MSbS"},{"x":0.537,"y":1,"site":"Urberg","mineral":"MAsS/MSbS"},{"x":0.543,"y":1,"site":"Urberg","mineral":"MAsS/MSbS"},{"x":0.549,"y":1,"site":"Urberg","mineral":"MAsS/MSbS"},{"x":0.556,"y":1,"site":"Urberg","mineral":"MAsS/MSbS"},{"x":0.561,"y":1,"site":"Urberg","mineral":"MAsS/MSbS"},{"x":0.567,"y":1,"site":"Urberg","mineral":"MAsS/MSbS"},{"x":0.574,"y":1,"site":"Urberg","mineral":"MAsS/MSbS"},{"x":0.579,"y":1,"site":"Urberg","mineral":"MAsS/MSbS"},{"x":0.586,"y":1,"site":"Urberg","mineral":"MAsS/MSbS"},{"x":0.591,"y":1,"site":"Urberg","mineral":"MAsS/MSbS"},{"x":0.597,"y":1,"site":"Urberg","mineral":"MAsS/MSbS"},{"x":0.604,"y":1,"site":"Urberg","mineral":"MAsS/MSbS"},{"x":0.609,"y":1,"site":"Urberg","mineral":"MAsS/MSbS"},{"x":0.615,"y":1,"site":"Urberg","mineral":"MAsS/MSbS"},{"x":0.622,"y":1,"site":"Urberg","mineral":"MAsS/MSbS"},{"x":0.628,"y":1,"site":"Urberg","mineral":"MAsS/MSbS"},{"x":0.633,"y":1,"site":"Urberg","mineral":"MAsS/MSbS"},{"x":0.64,"y":1,"site":"Urberg","mineral":"MAsS/MSbS"},{"x":0.646,"y":1,"site":"Urberg","mineral":"MAsS/MSbS"},{"x":0.652,"y":1,"site":"Urberg","mineral":"MAsS/MSbS"},{"x":0.657,"y":1,"site":"Urberg","mineral":"MAsS/MSbS"},{"x":0.663,"y":1,"site":"Urberg","mineral":"MAsS/MSbS"},{"x":0.677,"y":1,"site":"Urberg","mineral":"MAsS/MSbS"},{"x":0.683,"y":1,"site":"Urberg","mineral":"MAsS/MSbS"},{"x":0.689,"y":1,"site":"Urberg","mineral":"MAsS/MSbS"},{"x":0.695,"y":1,"site":"Urberg","mineral":"MAsS/MSbS"},{"x":0.701,"y":1,"site":"Urberg","mineral":"MAsS/MSbS"},{"x":0.707,"y":1,"site":"Urberg","mineral":"MAsS/MSbS"},{"x":0.714,"y":1,"site":"Urberg","mineral":"MAsS/MSbS"},{"x":0.719,"y":1,"site":"Urberg","mineral":"MAsS/MSbS"},{"x":0.725,"y":1,"site":"Urberg","mineral":"MAsS/MSbS"},{"x":0.731,"y":1,"site":"Urberg","mineral":"MAsS/MSbS"},{"x":0.738,"y":1,"site":"Urberg","mineral":"MAsS/MSbS"},{"x":0.743,"y":1,"site":"Urberg","mineral":"MAsS/MSbS"},{"x":0.749,"y":1,"site":"Urberg","mineral":"MAsS/MSbS"},{"x":0.756,"y":1,"site":"Urberg","mineral":"MAsS/MSbS"},{"x":0.761,"y":1,"site":"Urberg","mineral":"MAsS/MSbS"},{"x":0.767,"y":1,"site":"Urberg","mineral":"MAsS/MSbS"},{"x":0.774,"y":1,"site":"Urberg","mineral":"MAsS/MSbS"},{"x":0.779,"y":1,"site":"Urberg","mineral":"MAsS/MSbS"},{"x":0.785,"y":1,"site":"Urberg","mineral":"MAsS/MSbS"},{"x":0.792,"y":1,"site":"Urberg","mineral":"MAsS/MSbS"},{"x":0.797,"y":1,"site":"Urberg","mineral":"MAsS/MSbS"},{"x":0.803,"y":1,"site":"Urberg","mineral":"MAsS/MSbS"},{"x":0.809,"y":1,"site":"Urberg","mineral":"MAsS/MSbS"},{"x":0.815,"y":1,"site":"Urberg","mineral":"MAsS/MSbS"},{"x":0.821,"y":1,"site":"Urberg","mineral":"MAsS/MSbS"},{"x":0.827,"y":1,"site":"Urberg","mineral":"MAsS/MSbS"},{"x":0.833,"y":1,"site":"Urberg","mineral":"MAsS/MSbS"},{"x":0.839,"y":1,"site":"Urberg","mineral":"MAsS/MSbS"},{"x":0.845,"y":1,"site":"Urberg","mineral":"MAsS/MSbS"},{"x":0.852,"y":1,"site":"Urberg","mineral":"MAsS/MSbS"},{"x":0.893,"y":1,"site":"Urberg","mineral":"MAsS/MSbS"},{"x":0.899,"y":1,"site":"Urberg","mineral":"MAsS/MSbS"},{"x":0.991,"y":1,"site":"Urberg","mineral":"MAsS/MSbS"},{"x":0.997,"y":1,"site":"Urberg","mineral":"MAsS/MSbS"},
      {"x":0.905,"y":1,"site":"Urberg","mineral":"MAs3"},{"x":0.911,"y":1,"site":"Urberg","mineral":"MAs3"},{"x":0.918,"y":1,"site":"Urberg","mineral":"MAs3"},{"x":0.924,"y":1,"site":"Urberg","mineral":"MAs3"},{"x":0.929,"y":1,"site":"Urberg","mineral":"MAs3"},{"x":0.985,"y":1,"site":"Urberg","mineral":"MAs3"},
      {"x":0.4955,"y":0.2007,"site":"Wieden","mineral":"MAsS/MSbS"},{"x":0.4955,"y":0,"site":"Wieden","mineral":"MAsS/MSbS"},{"x":0.4992,"y":0,"site":"Wieden","mineral":"MAsS/MSbS"},{"x":0.5028,"y":0.0045,"site":"Wieden","mineral":"MAsS/MSbS"},{"x":0.5074,"y":0.011,"site":"Wieden","mineral":"MAsS/MSbS"},{"x":0.6623,"y":0.9008,"site":"Wieden","mineral":"MAsS/MSbS"},{"x":0.7827,"y":0.9365,"site":"Wieden","mineral":"MAsS/MSbS"},{"x":0.8034,"y":0.9142,"site":"Wieden","mineral":"MAsS/MSbS"},{"x":0.8176,"y":0.9387,"site":"Wieden","mineral":"MAsS/MSbS"},{"x":0.8309,"y":0.9275,"site":"Wieden","mineral":"MAsS/MSbS"},{"x":0.6701,"y":1,"site":"Wieden","mineral":"MAsS/MSbS"},
      {"x":0.8461,"y":0.9532,"site":"Wieden","mineral":"MAs2"},{"x":0.8475,"y":0.942,"site":"Wieden","mineral":"MAs2"},{"x":0.8562,"y":0.9509,"site":"Wieden","mineral":"MAs2"},{"x":0.8723,"y":0.9532,"site":"Wieden","mineral":"MAs2"},{"x":0.875,"y":0.9253,"site":"Wieden","mineral":"MAs2"},{"x":0.8806,"y":0.9588,"site":"Wieden","mineral":"MAs2"},{"x":0.9182,"y":0.9086,"site":"Wieden","mineral":"MAs2"},
      {"x":0.8484,"y":1,"site":"Wieden","mineral":"MAs2"},{"x":0.8553,"y":1,"site":"Wieden","mineral":"MAs2"},{"x":0.8668,"y":1,"site":"Wieden","mineral":"MAs2"},{"x":0.8828,"y":1,"site":"Wieden","mineral":"MAs2"},{"x":0.8943,"y":1,"site":"Wieden","mineral":"MAs2"},{"x":0.9311,"y":1,"site":"Wieden","mineral":"MAs2"},{"x":0.9357,"y":1,"site":"Wieden","mineral":"MAs2"},{"x":0.9449,"y":1,"site":"Wieden","mineral":"MAs2"},{"x":0.9587,"y":1,"site":"Wieden","mineral":"MAs2"},{"x":0.9633,"y":1,"site":"Wieden","mineral":"MAs2"},{"x":0.9724,"y":1,"site":"Wieden","mineral":"MAs2"},{"x":0.9816,"y":1,"site":"Wieden","mineral":"MAs2"},{"x":0.9862,"y":1,"site":"Wieden","mineral":"MAs2"},
      {"x":0.9012,"y":0.8138,"site":"Wieden","mineral":"MAs/MSb"},{"x":0.9591,"y":0.5909,"site":"Wieden","mineral":"MAs/MSb"},{"x":0.9564,"y":0.5407,"site":"Wieden","mineral":"MAs/MSb"},{"x":0.9642,"y":0.5518,"site":"Wieden","mineral":"MAs/MSb"},{"x":0.9678,"y":0.5351,"site":"Wieden","mineral":"MAs/MSb"},{"x":0.961,"y":0.5184,"site":"Wieden","mineral":"MAs/MSb"},{"x":0.977,"y":0.524,"site":"Wieden","mineral":"MAs/MSb"},{"x":0.966,"y":0.4872,"site":"Wieden","mineral":"MAs/MSb"},{"x":0.9577,"y":0.5351,"site":"Wieden","mineral":"MAs/MSb"},{"x":0.9127,"y":0.3902,"site":"Wieden","mineral":"MAs/MSb"},{"x":0.9513,"y":0.3735,"site":"Wieden","mineral":"MAs/MSb"},{"x":0.9274,"y":0.3255,"site":"Wieden","mineral":"MAs/MSb"},{"x":0.9633,"y":0.1851,"site":"Wieden","mineral":"MAs/MSb"},{"x":0.9136,"y":0.1695,"site":"Wieden","mineral":"MAs/MSb"},{"x":0.9196,"y":0.1728,"site":"Wieden","mineral":"MAs/MSb"},{"x":0.9228,"y":0.1695,"site":"Wieden","mineral":"MAs/MSb"},{"x":0.8989,"y":0.0892,"site":"Wieden","mineral":"MAs/MSb"},{"x":0.9012,"y":0.1003,"site":"Wieden","mineral":"MAs/MSb"},{"x":0.909,"y":0.087,"site":"Wieden","mineral":"MAs/MSb"},{"x":0.9159,"y":0.0758,"site":"Wieden","mineral":"MAs/MSb"},{"x":0.9495,"y":0.0758,"site":"Wieden","mineral":"MAs/MSb"},{"x":0.8943,"y":0.039,"site":"Wieden","mineral":"MAs/MSb"},{"x":0.8888,"y":0.0223,"site":"Wieden","mineral":"MAs/MSb"},{"x":0.9058,"y":0.0446,"site":"Wieden","mineral":"MAs/MSb"},{"x":0.9058,"y":0.0167,"site":"Wieden","mineral":"MAs/MSb"},{"x":0.9182,"y":0.0111,"site":"Wieden","mineral":"MAs/MSb"},{"x":0.9219,"y":0.0223,"site":"Wieden","mineral":"MAs/MSb"},{"x":0.9288,"y":0.0334,"site":"Wieden","mineral":"MAs/MSb"},{"x":0.9334,"y":0.0357,"site":"Wieden","mineral":"MAs/MSb"},{"x":0.9518,"y":0,"site":"Wieden","mineral":"MAs/MSb"},{"x":0.9711,"y":0.0301,"site":"Wieden","mineral":"MAs/MSb"},{"x":0.9922,"y":0,"site":"Wieden","mineral":"MAs/MSb"}
     ]},
     "mark": {"type": "point", "filled": false, "strokeWidth": 3.1, "size": 88, "opacity": 1},
     "encoding": {
      "color": {"field": "site", "type": "nominal", "scale": {"domain": ["Münstertal", "Urberg", "Wieden"], "range": ["#2b3a9a", "#0c6b2e", "#9e1b1b"]}, "legend": null},
      "shape": {"field": "mineral", "type": "nominal", "scale": {"domain": ["MAs3", "MAs2", "MAs/MSb", "MAsS/MSbS"], "range": ["M0,-1.1L1.05,0.85L-1.05,0.85Z", "M-1,0L-0.5,-0.87L0.5,-0.87L1,0L0.5,0.87L-0.5,0.87Z", "M-1,-1L1,-1L1,1L-1,1Z", "M0,-1.2L0.85,0L0,1.2L-0.85,0Z"]}, "legend": null}}}
   ]
  }
 ]
},
{
 "width": 681, "height": 106,
 "view": {"stroke": "#222", "strokeWidth": 3},
 "data": {"values": [
  {"label":"Münstertal","x":0.0367,"row":1,"site":"Münstertal"},
  {"label":"Urberg","x":0.0367,"row":2,"site":"Urberg"},
  {"label":"Wieden","x":0.0367,"row":3,"site":"Wieden"},
  {"label":"MAs3","x":0.3812,"row":1,"mineral":"MAs3"},
  {"label":"MAs2","x":0.3812,"row":2,"mineral":"MAs2"},
  {"label":"MAs/MSb","x":0.3812,"row":3,"mineral":"MAs/MSb"},
  {"label":"MAsS/MSbS","x":0.6872,"row":1,"mineral":"MAsS/MSbS"}
 ]},
 "encoding": {
  "x": {"field": "x", "type": "quantitative", "scale": {"domain": [0, 1], "nice": false, "zero": false}, "axis": null},
  "y": {"field": "row", "type": "quantitative", "scale": {"domain": [-0.028, 4.212], "reverse": true, "nice": false, "zero": false}, "axis": null}
 },
 "layer": [
  {"transform": [{"filter": "isValid(datum.site)"}],
   "mark": {"type": "point", "shape": "M-0.75,-0.9L0.75,-0.9L0.75,0.9L-0.75,0.9Z", "size": 324, "filled": true, "stroke": "#333", "strokeWidth": 1, "opacity": 1},
   "encoding": {"fill": {"field": "site", "type": "nominal", "scale": {"domain": ["Münstertal", "Urberg", "Wieden"], "range": ["#26409a", "#0e8a3c", "#c8151b"]}, "legend": null}}},
  {"transform": [{"filter": "isValid(datum.mineral)"}],
   "mark": {"type": "point", "filled": false, "stroke": "#111", "strokeWidth": 2.8, "size": 80, "opacity": 1},
   "encoding": {"shape": {"field": "mineral", "type": "nominal", "scale": {"domain": ["MAs3", "MAs2", "MAs/MSb", "MAsS/MSbS"], "range": ["M0,-1.1L1.05,0.85L-1.05,0.85Z", "M-1,0L-0.5,-0.87L0.5,-0.87L1,0L0.5,0.87L-0.5,0.87Z", "M-1,-1L1,-1L1,1L-1,1Z", "M0,-1.2L0.85,0L0,1.2L-0.85,0Z"]}, "legend": null}}},
  {"mark": {"type": "text", "align": "left", "baseline": "middle", "dx": 18, "fontSize": 19, "color": "#222"},
   "encoding": {"text": {"field": "label"}}}
 ]
}
]
}
